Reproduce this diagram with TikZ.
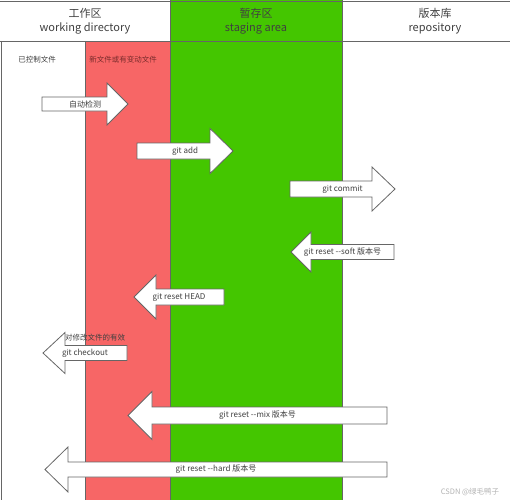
\documentclass[tikz,border=0pt]{standalone}
\usepackage{fontspec}
\setmainfont{Noto Sans CJK SC}
\definecolor{wdred}{HTML}{F76666}
\definecolor{stgreen}{HTML}{44C600}
\definecolor{edgegray}{HTML}{666666}
\definecolor{textgray}{HTML}{404040}
\definecolor{notered}{HTML}{7A2C2C}

\begin{document}
\begin{tikzpicture}
  [x=1pt,y=-1pt,
   head/.style={font=\fontsize{11}{14}\selectfont,text=textgray,align=center},
   tag/.style={font=\fontsize{8}{9}\selectfont,text=textgray},
   small/.style={font=\fontsize{7.5}{9}\selectfont,text=textgray},
   blockarrow/.style={draw=edgegray,fill=white,line width=0.8pt,line join=miter},
   rule/.style={draw=edgegray,line width=0.8pt}]
  \useasboundingbox (0,0) rectangle (510,500);
  % columns
  \fill[wdred] (85,41) rectangle (170,500);
  \fill[stgreen] (170,0) rectangle (342,500);
  \draw[rule] (0,1) -- (510,1);
  \draw[rule] (0,41) -- (510,41);
  \draw[rule] (1,41) -- (1,500);
  \draw[rule] (85,41) -- (85,500);
  \draw[rule] (170,0) -- (170,500);
  \draw[rule] (342,0) -- (342,500);
  % headers
  \node[head] (wd) at (85,21) {工作区\\working directory};
  \node[head] (stage) at (256,21) {暂存区\\staging area};
  \node[head] (repo) at (435,21) {版本库\\repository};
  \node[small] (tracked) at (37,60) {已控制文件};
  \node[small,text=notered] (changed) at (123,60) {新文件或有变动文件};
  % block arrows
  \foreach \name/\ta/\tb/\tc/\y/\bh/\hh/\txt in {
    detect/42/107/128/104/7/21/自动检测,
    add/137/210/233/151/8/22.5/git add,
    commit/290/372/395/189/8/22/git commit,
    soft/394/311/291/252/7.5/20/git reset {-}{-}soft 版本号,
    reset/224/156/134/297/8/22/git reset HEAD,
    checkout/127/65/43/353/7.5/20.5/git checkout,
    mix/387/152/128/415.5/8.5/24/git reset {-}{-}mix 版本号,
    hard/387/68/45/469.5/7.5/22.5/git reset {-}{-}hard 版本号}
  {
    \draw[blockarrow] (\ta,\y-\bh) -- (\tb,\y-\bh) -- (\tb,\y-\hh) -- (\tc,\y)
      -- (\tb,\y+\hh) -- (\tb,\y+\bh) -- (\ta,\y+\bh) -- cycle;
    \node[tag] (\name) at ({(\ta+\tc)/2},\y) {\txt};
  }
  \node[small] (checkoutnote) at (95,338) {对修改文件的有效};
  \node[small,text=gray!60] (mark) at (470,492) {CSDN @绿毛鸭子};
\end{tikzpicture}
\end{document}
